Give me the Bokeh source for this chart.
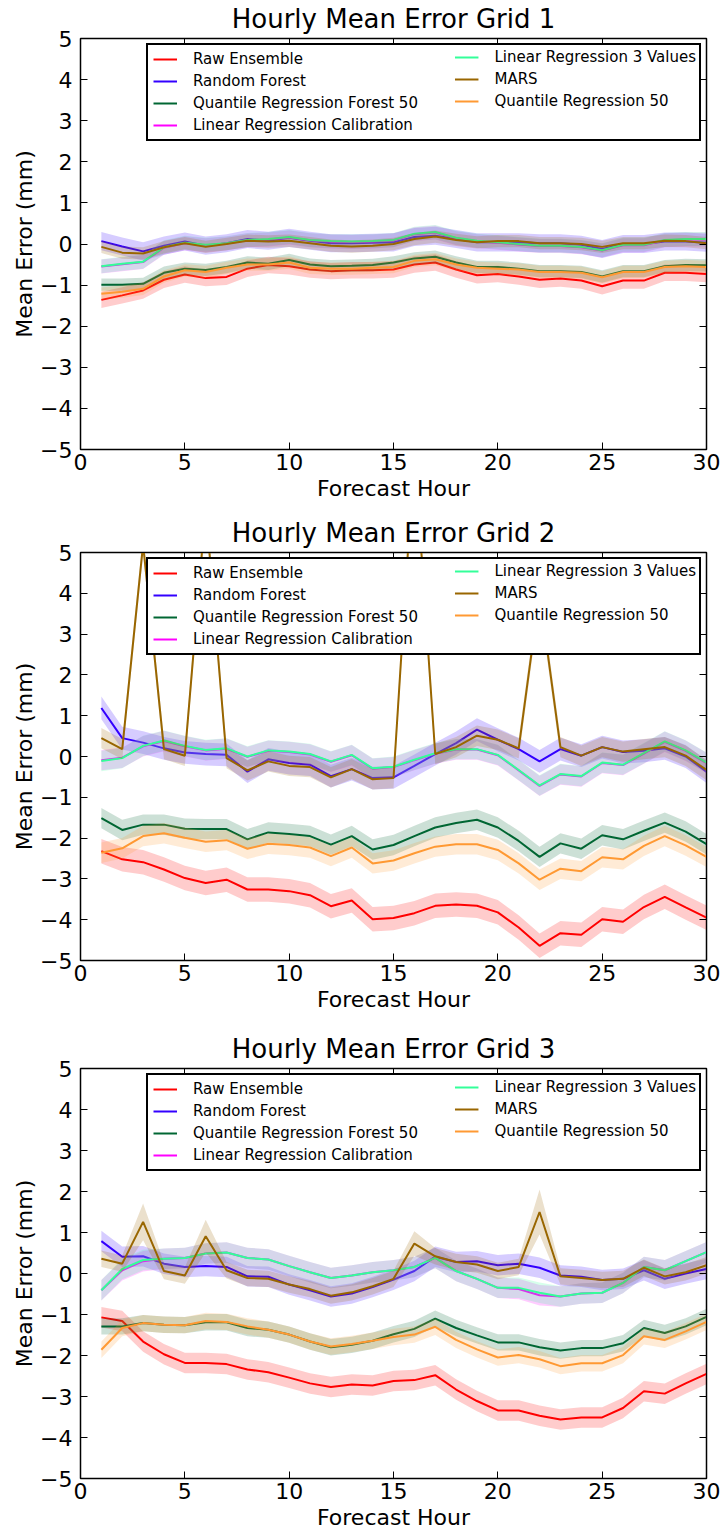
from bokeh.plotting import figure
from bokeh.models import Range1d, FixedTicker, LinearAxis, Legend, LegendItem, CustomLabelingPolicy
from bokeh.layouts import column
from bokeh.embed import file_html
from bokeh.resources import INLINE

hours = list(range(1, 31))
names = ["Raw Ensemble", "Random Forest", "Quantile Regression Forest 50",
         "Linear Regression Calibration", "Linear Regression 3 Values", "MARS",
         "Quantile Regression 50"]
colors = ["#ff0000", "#3300ff", "#006633", "#ff00ff", "#33ff99", "#996600", "#ff9933"]
x_ticks = [0, 5, 10, 15, 20, 25, 30]
y_ticks = [-5, -4, -3, -2, -1, 0, 1, 2, 3, 4, 5]

# ---------------- Grid 1 ----------------
raw1 = [-1.36, -1.25, -1.13, -0.87, -0.74, -0.83, -0.80, -0.60, -0.51, -0.54, -0.62, -0.66, -0.64, -0.64, -0.62,
        -0.50, -0.45, -0.62, -0.76, -0.73, -0.79, -0.87, -0.84, -0.89, -1.03, -0.89, -0.89, -0.70, -0.70, -0.73]
rf1 = [0.07, -0.06, -0.18, -0.04, 0.06, -0.04, 0.02, 0.12, 0.08, 0.15, 0.08, 0.02, 0.02, 0.03, 0.04,
       0.17, 0.20, 0.12, 0.04, 0.04, 0.04, 0.02, 0.02, -0.02, -0.12, 0.00, 0.00, 0.06, 0.06, 0.03]
qrf1 = [-0.99, -0.99, -0.97, -0.70, -0.60, -0.63, -0.56, -0.45, -0.48, -0.39, -0.50, -0.54, -0.53, -0.51, -0.45,
        -0.35, -0.31, -0.45, -0.56, -0.56, -0.60, -0.66, -0.66, -0.68, -0.79, -0.66, -0.66, -0.54, -0.51, -0.52]
lrc1 = [-0.55, -0.49, -0.44, -0.09, 0.02, -0.03, 0.01, 0.09, 0.11, 0.16, 0.09, 0.06, 0.05, 0.06, 0.09,
        0.24, 0.28, 0.14, 0.07, 0.03, -0.01, -0.05, -0.05, -0.08, -0.16, -0.03, -0.03, 0.09, 0.11, 0.11]
lr3_1 = [-0.54, -0.48, -0.43, -0.08, 0.03, -0.02, 0.02, 0.10, 0.12, 0.17, 0.10, 0.07, 0.06, 0.07, 0.10,
         0.25, 0.29, 0.15, 0.08, 0.04, 0.00, -0.04, -0.04, -0.07, -0.15, -0.02, -0.02, 0.10, 0.12, 0.12]
mars1 = [-0.07, -0.21, -0.23, -0.08, 0.02, -0.07, 0.00, 0.08, 0.06, 0.08, 0.02, -0.04, -0.06, -0.04, 0.00,
         0.12, 0.18, 0.10, 0.04, 0.07, 0.07, 0.02, 0.02, 0.00, -0.07, 0.02, 0.02, 0.08, 0.07, 0.02]
qr1 = [-1.21, -1.16, -1.09, -0.79, -0.64, -0.68, -0.58, -0.50, -0.50, -0.45, -0.58, -0.60, -0.60, -0.58, -0.56,
       -0.41, -0.37, -0.50, -0.58, -0.60, -0.62, -0.68, -0.68, -0.70, -0.81, -0.68, -0.68, -0.56, -0.54, -0.56]
err1 = [0.20, 0.22, 0.15, 0.17, 0.17, 0.15, 0.15]

# ---------------- Grid 2 ----------------
raw2 = [-2.32, -2.52, -2.59, -2.77, -2.98, -3.10, -3.02, -3.26, -3.26, -3.30, -3.40, -3.67, -3.53, -3.99, -3.96,
        -3.84, -3.66, -3.63, -3.66, -3.82, -4.19, -4.64, -4.33, -4.37, -3.99, -4.05, -3.69, -3.44, -3.70, -3.95]
rf2 = [1.19, 0.45, 0.34, 0.20, 0.10, 0.06, 0.04, -0.37, -0.07, -0.16, -0.20, -0.48, -0.31, -0.53, -0.51,
       -0.23, 0.06, 0.33, 0.66, 0.41, 0.18, -0.12, 0.18, 0.02, 0.23, 0.11, 0.14, 0.20, 0.00, -0.37]
qrf2 = [-1.51, -1.80, -1.67, -1.67, -1.77, -1.78, -1.78, -2.03, -1.86, -1.90, -1.95, -2.16, -1.95, -2.28, -2.17,
        -1.95, -1.74, -1.63, -1.55, -1.74, -2.07, -2.46, -2.13, -2.26, -1.93, -2.03, -1.82, -1.62, -1.84, -2.15]
lrc2 = [-0.09, -0.03, 0.25, 0.38, 0.25, 0.15, 0.19, -0.01, 0.14, 0.11, 0.05, -0.13, 0.03, -0.30, -0.26,
        -0.09, 0.07, 0.17, 0.17, 0.03, -0.34, -0.72, -0.44, -0.49, -0.16, -0.21, 0.07, 0.36, 0.14, -0.16]
lr3_2 = [-0.11, -0.04, 0.26, 0.39, 0.26, 0.16, 0.20, 0.00, 0.15, 0.12, 0.06, -0.12, 0.04, -0.29, -0.25,
         -0.08, 0.08, 0.18, 0.18, 0.04, -0.33, -0.71, -0.43, -0.48, -0.15, -0.20, 0.08, 0.37, 0.15, -0.15]
mars2 = [0.45, 0.18, 5.20, 0.18, 0.02, 6.10, -0.04, -0.34, -0.12, -0.23, -0.26, -0.51, -0.31, -0.56, -0.53,
         7.50, 0.06, 0.23, 0.51, 0.41, 0.20, 4.00, 0.23, 0.02, 0.23, 0.12, 0.18, 0.23, 0.02, -0.33]
qr2 = [-2.36, -2.25, -1.95, -1.88, -1.99, -2.09, -2.05, -2.26, -2.14, -2.17, -2.23, -2.44, -2.23, -2.62, -2.55,
       -2.37, -2.21, -2.15, -2.15, -2.29, -2.62, -3.02, -2.75, -2.81, -2.47, -2.52, -2.19, -1.95, -2.18, -2.46]
err2 = [0.30, 0.28, 0.25, 0.25, 0.25, 0.25, 0.25]

# ---------------- Grid 3 ----------------
raw3 = [-1.07, -1.16, -1.66, -1.97, -2.18, -2.18, -2.21, -2.34, -2.41, -2.54, -2.68, -2.77, -2.71, -2.73, -2.62,
        -2.60, -2.48, -2.83, -3.11, -3.34, -3.34, -3.47, -3.56, -3.51, -3.51, -3.28, -2.87, -2.93, -2.68, -2.45]
rf3 = [0.79, 0.41, 0.42, 0.24, 0.16, 0.18, 0.16, -0.07, -0.08, -0.27, -0.41, -0.56, -0.49, -0.33, -0.15,
       0.06, 0.41, 0.28, 0.30, 0.20, 0.24, 0.14, -0.05, -0.08, -0.16, -0.13, 0.08, -0.13, 0.00, 0.11]
qrf3 = [-1.29, -1.29, -1.21, -1.25, -1.26, -1.19, -1.19, -1.33, -1.37, -1.49, -1.66, -1.80, -1.74, -1.64, -1.48,
        -1.35, -1.10, -1.33, -1.51, -1.68, -1.68, -1.80, -1.88, -1.82, -1.82, -1.70, -1.33, -1.45, -1.29, -1.06]
lrc3 = [-0.41, 0.08, 0.30, 0.36, 0.38, 0.49, 0.51, 0.38, 0.34, 0.18, 0.03, -0.11, -0.05, 0.03, 0.08,
        0.16, 0.38, 0.06, -0.13, -0.35, -0.38, -0.53, -0.56, -0.49, -0.47, -0.23, 0.16, 0.08, 0.30, 0.52]
lr3_3 = [-0.41, 0.11, 0.33, 0.36, 0.38, 0.49, 0.51, 0.38, 0.34, 0.18, 0.03, -0.11, -0.05, 0.03, 0.08,
         0.16, 0.38, 0.06, -0.13, -0.35, -0.35, -0.47, -0.56, -0.49, -0.47, -0.23, 0.16, 0.08, 0.30, 0.52]
mars3 = [0.36, 0.24, 1.26, 0.06, -0.05, 0.91, 0.08, -0.11, -0.13, -0.27, -0.38, -0.54, -0.46, -0.31, -0.13,
         0.73, 0.42, 0.28, 0.22, 0.06, 0.16, 1.50, -0.07, -0.11, -0.16, -0.13, 0.14, -0.07, 0.03, 0.20]
qr3 = [-1.86, -1.33, -1.21, -1.25, -1.26, -1.16, -1.18, -1.29, -1.37, -1.49, -1.66, -1.78, -1.72, -1.64, -1.55,
       -1.49, -1.30, -1.62, -1.85, -2.05, -1.99, -2.09, -2.26, -2.19, -2.19, -1.99, -1.53, -1.62, -1.41, -1.18]
err3 = [0.25, 0.25, 0.20, 0.25, 0.25, 0.20, 0.20]
mars3_err = [0.2, 0.2, 0.45, 0.2, 0.2, 0.4, 0.2, 0.2, 0.2, 0.2, 0.2, 0.2, 0.2, 0.2, 0.2,
             0.3, 0.2, 0.2, 0.2, 0.2, 0.2, 0.55, 0.2, 0.2, 0.2, 0.2, 0.2, 0.2, 0.2, 0.2]

FONT = "DejaVu Sans"


def style_axis(ax):
    ax.axis_line_color = "black"
    ax.major_tick_in = 7
    ax.major_tick_out = 0
    ax.minor_tick_in = 0
    ax.minor_tick_out = 0
    ax.major_tick_line_color = "black"
    ax.major_label_text_font = FONT
    ax.major_label_text_font_size = "22px"
    ax.major_label_text_color = "black"
    ax.axis_label_text_font = FONT
    ax.axis_label_text_font_size = "22px"
    ax.axis_label_text_font_style = "normal"
    ax.axis_label_text_color = "black"


def make_panel(title, series, errs, top, bottom, mars_err=None):
    p = figure(width=723, height=511, x_range=Range1d(0, 30), y_range=Range1d(-5, 5),
               output_backend="svg", toolbar_location=None, title=title,
               min_border_left=80, min_border_right=17, min_border_top=top, min_border_bottom=bottom)
    p.title.text_font = FONT
    p.title.text_font_size = "26px"
    p.title.text_font_style = "normal"
    p.title.text_color = "black"
    p.title.align = "center"
    p.title.standoff = 2
    p.xgrid.visible = False
    p.ygrid.visible = False
    p.outline_line_color = "black"
    p.outline_line_width = 1.5

    for ax, ticks in ((p.xaxis[0], x_ticks), (p.yaxis[0], y_ticks)):
        style_axis(ax)
        ax.ticker = FixedTicker(ticks=ticks)
        ax.major_label_overrides = {t: (str(t).replace("-", "\u2212")) for t in ticks}
    p.xaxis[0].major_label_standoff = 4
    p.yaxis[0].major_label_standoff = 8
    p.xaxis[0].axis_label = "Forecast Hour"
    p.xaxis[0].axis_label_standoff = 3
    p.yaxis[0].axis_label = "Mean Error (mm)"
    p.yaxis[0].axis_label_standoff = 0

    hide = CustomLabelingPolicy(code="for (const i of []) { yield i }")
    top_ax = LinearAxis(major_label_policy=hide)
    style_axis(top_ax)
    top_ax.major_label_text_font_size = "1px"
    top_ax.major_label_standoff = 0
    top_ax.ticker = FixedTicker(ticks=x_ticks)
    right_ax = LinearAxis(major_label_policy=hide)
    style_axis(right_ax)
    right_ax.major_label_text_font_size = "1px"
    right_ax.major_label_standoff = 0
    right_ax.ticker = FixedTicker(ticks=y_ticks)
    p.add_layout(top_ax, "above")
    p.add_layout(right_ax, "right")

    lines = []
    for i, (vals, col) in enumerate(zip(series, colors)):
        if i == 5 and mars_err is not None:
            e = mars_err
        else:
            e = [errs[i]] * len(vals)
        lo = [v - d for v, d in zip(vals, e)]
        hi = [v + d for v, d in zip(vals, e)]
        p.varea(x=hours, y1=lo, y2=hi, fill_color=col, fill_alpha=0.2)
        r = p.line(hours, vals, line_color=col, line_width=2)
        lines.append(r)

    common = dict(location="top_right", margin=5, padding=5, spacing=4, glyph_width=24,
                  glyph_height=16, label_height=16, label_standoff=16,
                  label_text_font=FONT, label_text_font_size="15px", label_text_color="black")
    l1 = Legend(items=[LegendItem(label=names[i], renderers=[lines[i]]) for i in range(4)],
                label_width=501, border_line_color="black", border_line_width=2, border_line_alpha=1,
                background_fill_color="white", background_fill_alpha=1, **common)
    l2 = Legend(items=[LegendItem(label=names[i], renderers=[lines[i]]) for i in range(4, 7)],
                label_width=199, border_line_alpha=0, background_fill_alpha=0, **common)
    p.add_layout(l1)
    p.add_layout(l2)
    return p


# series order matches legend order: raw, rf, qrf, lrc, lr3, mars, qr
p1 = make_panel("Hourly Mean Error Grid 1", [raw1, rf1, qrf1, lrc1, lr3_1, mars1, qr1], err1, 36, 62)
p2 = make_panel("Hourly Mean Error Grid 2", [raw2, rf2, qrf2, lrc2, lr3_2, mars2, qr2], err2, 41, 62)
p3 = make_panel("Hourly Mean Error Grid 3", [raw3, rf3, qrf3, lrc3, lr3_3, mars3, qr3], err3, 46, 55,
                mars_err=mars3_err)

layout = column(p1, p2, p3, spacing=0)
open("out.html", "w").write(file_html(layout, INLINE))
